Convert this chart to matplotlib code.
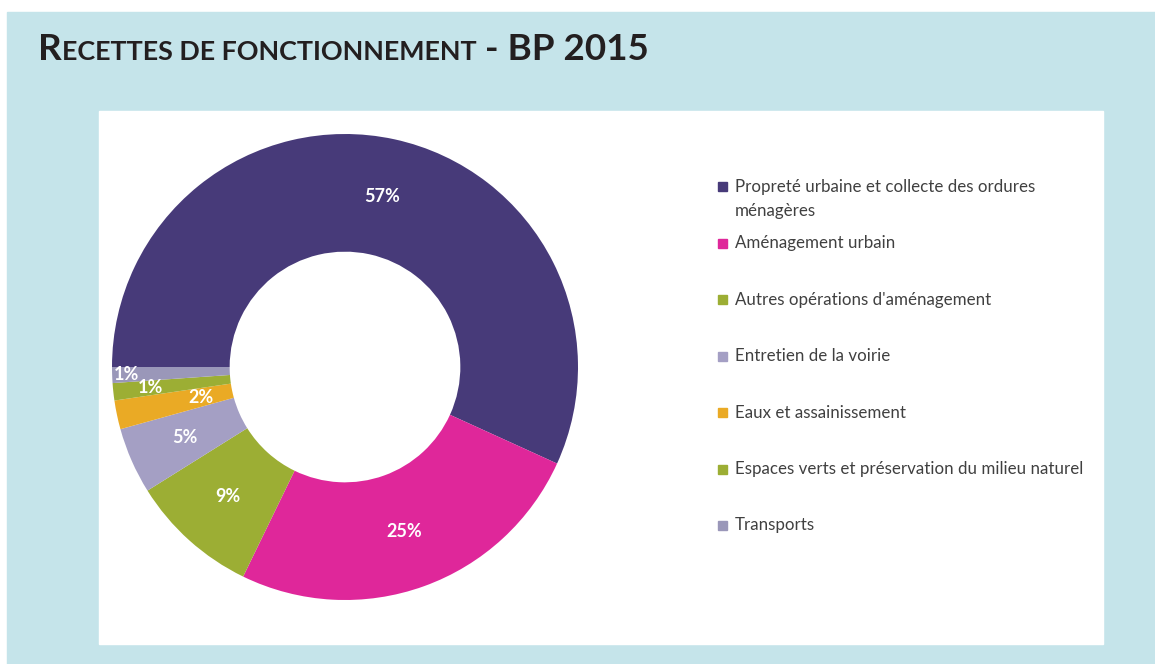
import numpy as np
import matplotlib.pyplot as plt
from matplotlib.patches import Rectangle

# data
categories = ["Propreté urbaine et collecte des ordures\nménagères",
              "Aménagement urbain",
              "Autres opérations d'aménagement",
              "Entretien de la voirie",
              "Eaux et assainissement",
              "Espaces verts et préservation du milieu naturel",
              "Transports"]
values = [56.8, 25.4, 8.9, 4.6, 2.0, 1.2, 1.1]
colors = ["#473a79", "#df279a", "#9cae34", "#a49fc4", "#eaaa25", "#9cae34", "#9a97b9"]
# radial position of each percentage label (Excel nudges the small ones)
label_r = [0.75, 0.75, 0.75, 0.75, 0.63, 0.84, 0.94]

W, H = 1155, 664
fig = plt.figure(figsize=(W / 100, H / 100), dpi=100)
fig.patch.set_facecolor("white")

def px(x, y):
    return x / W, 1 - y / H

# backgrounds
fig.patches.append(Rectangle(px(7, 664), (W - 7) / W, (664 - 12) / H,
                             transform=fig.transFigure, color="#c5e4ea", zorder=0))
fig.patches.append(Rectangle(px(99, 644), (1103 - 99) / W, (644 - 111) / H,
                             transform=fig.transFigure, color="white", zorder=1))

# donut
cx, cy, R = 345, 367, 233
ax = fig.add_axes([(cx - R) / W, (H - cy - R) / H, 2 * R / W, 2 * R / H])
ax.set_zorder(2)
wedges, _ = ax.pie(values, colors=colors, startangle=180, counterclock=False,
                   wedgeprops=dict(width=0.505, linewidth=0))
ax.set_xlim(-1, 1)
ax.set_ylim(-1, 1)
ax.set_aspect("equal")
ax.axis("off")

for w, v, r in zip(wedges, values, label_r):
    ang = np.deg2rad((w.theta1 + w.theta2) / 2)
    ax.text(r * np.cos(ang), r * np.sin(ang), f"{v:.0f}%", ha="center", va="center",
            color="white", fontsize=13, fontweight="bold", family="Lato")

# legend drawn by hand, Excel-like even slots
y0, step = 187, 56.4
for i, (name, col) in enumerate(zip(categories, colors)):
    y = y0 + i * step
    fig.patches.append(Rectangle(px(718, y + 4.5), 9 / W, 9 / H,
                                 transform=fig.transFigure, color=col, zorder=3))
    fig.text(*px(735, y - 8), name, ha="left", va="top", fontsize=12.2,
             family="Lato", color="#404040", linespacing=1.6, zorder=3)

# title in small caps
fig.canvas.draw()
rend = fig.canvas.get_renderer()
pieces = [("R", 26.5), ("ECETTES DE FONCTIONNEMENT", 19.4), (" - BP 2015", 26.5)]
x = 38
for txt, size in pieces:
    t = fig.text(*px(x, 60), txt, ha="left", va="baseline", fontsize=size,
                 family="Lato", fontweight="bold", color="#231f20", zorder=3)
    x += t.get_window_extent(rend).width

fig.savefig("out.png", dpi=100)
